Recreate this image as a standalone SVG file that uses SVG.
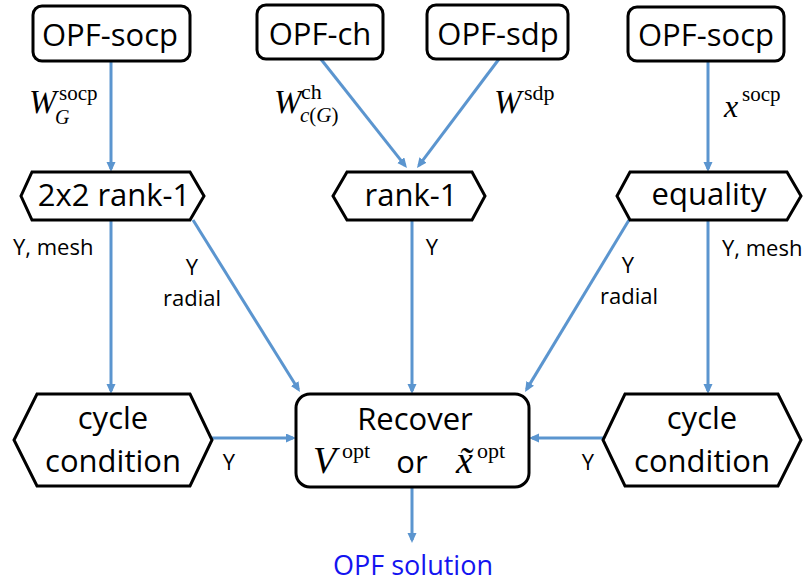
<svg xmlns="http://www.w3.org/2000/svg" width="810" height="583" viewBox="0 0 810 583">
<defs>
<marker id="ah" markerUnits="userSpaceOnUse" markerWidth="10" markerHeight="10" refX="7" refY="4.5" orient="auto">
<path d="M0,0 L10,4.5 L0,9 z" fill="#5B95CF"/>
</marker>
<style>
.box{fill:#fff;stroke:#000;stroke-width:3}
.t{font-family:"Open Sans","Liberation Sans",sans-serif;font-size:31px;fill:#000;text-anchor:middle}
.l{font-family:"Open Sans","Liberation Sans",sans-serif;font-size:22px;fill:#000}
.c{stroke:#5B95CF;stroke-width:3;fill:none;marker-end:url(#ah)}
.m{font-family:"Liberation Serif","Times New Roman",serif;fill:#000}
.mi{font-style:italic}
</style>
</defs>
<rect width="810" height="583" fill="#fff"/>
<g id="connectors">
<path class="c" d="M111,61 L111,169"/>
<path class="c" d="M320,58 L405.1,165.6"/>
<path class="c" d="M499,59 L418.8,165.6"/>
<path class="c" d="M708,61 L708,169"/>
<path class="c" d="M111,220 L111,391"/>
<path class="c" d="M193,220 L298.4,389.5"/>
<path class="c" d="M412,220 L412,391"/>
<path class="c" d="M629,220 L526.6,389.4"/>
<path class="c" d="M708,220 L708,391"/>
<path class="c" d="M212,438 L293,438"/>
<path class="c" d="M603,438 L532,438"/>
<path class="c" d="M412,487 L412,540"/>
</g>
<g id="labels">
<text class="m mi" x="29" y="113" font-size="33">W</text>
<text class="m" x="59" y="100" font-size="21">socp</text>
<text class="m mi" x="55" y="124" font-size="20">G</text>
<text class="m mi" x="274" y="113" font-size="33">W</text>
<text class="m" x="301" y="99" font-size="22">ch</text>
<text class="m" x="300" y="122" font-size="21"><tspan class="mi">c</tspan>(<tspan class="mi">G</tspan>)</text>
<text class="m mi" x="494" y="113" font-size="33">W</text>
<text class="m" x="524" y="100" font-size="22">sdp</text>
<text class="m mi" x="724" y="117" font-size="32">x</text>
<text class="m" x="742" y="101" font-size="21">socp</text>
<text class="l" x="13" y="255">Y, mesh</text>
<text class="l" x="192" y="275" text-anchor="middle">Y</text>
<text class="l" x="192" y="306" text-anchor="middle">radial</text>
<text class="l" x="432" y="255" text-anchor="middle">Y</text>
<text class="l" x="628" y="273" text-anchor="middle">Y</text>
<text class="l" x="629" y="304" text-anchor="middle">radial</text>
<text class="l" x="722" y="256">Y, mesh</text>
<text class="l" x="229" y="470" text-anchor="middle">Y</text>
<text class="l" x="588" y="470" text-anchor="middle">Y</text>
</g>
<g id="n-opf-socp-left">
<rect class="box" x="33" y="6" width="157" height="55" rx="9"/>
<text class="t" x="110" y="46">OPF-socp</text>
</g>
<g id="n-opf-ch">
<rect class="box" x="257" y="5" width="126" height="54" rx="9"/>
<text class="t" x="320" y="45">OPF-ch</text>
</g>
<g id="n-opf-sdp">
<rect class="box" x="427" y="5" width="141" height="54" rx="9"/>
<text class="t" x="498" y="45">OPF-sdp</text>
</g>
<g id="n-opf-socp-right">
<rect class="box" x="628" y="7" width="156" height="54" rx="9"/>
<text class="t" x="706" y="46">OPF-socp</text>
</g>
<g id="n-2x2-rank1">
<polygon class="box" points="32,172 190,172 204,196 190,220 32,220 21,196"/>
<text class="t" x="114" y="206">2x2 rank-1</text>
</g>
<g id="n-rank1">
<polygon class="box" points="347,172 472,172 485,196 472,220 347,220 333,196"/>
<text class="t" x="411" y="206">rank-1</text>
</g>
<g id="n-equality">
<polygon class="box" points="630,172 787,172 801,196 787,220 630,220 617,196"/>
<text class="t" x="709" y="205">equality</text>
</g>
<g id="n-cycle-left">
<polygon class="box" points="37,394 190,394 212,440 190,486 37,486 14,440"/>
<text class="t" x="113" y="429">cycle</text>
<text class="t" x="113" y="472">condition</text>
</g>
<g id="n-cycle-right">
<polygon class="box" points="625,394 778,394 801,440 778,486 625,486 603,440"/>
<text class="t" x="702" y="429">cycle</text>
<text class="t" x="702" y="472">condition</text>
</g>
<g id="n-recover">
<rect class="box" x="296" y="394" width="233" height="93" rx="14"/>
<text class="t" x="415" y="430">Recover</text>
<text class="m mi" x="313" y="473" font-size="38">V</text>
<text class="m" x="342" y="458" font-size="22">opt</text>
<text class="t" x="412" y="473">or</text>
<text class="m mi" x="456" y="473" font-size="38">x&#x303;</text>
<text class="m" x="477" y="458" font-size="22">opt</text>
</g>
<g id="n-solution">
<text x="413" y="575" font-family="'Open Sans','Liberation Sans',sans-serif" font-size="27" fill="#1414F0" text-anchor="middle">OPF solution</text>
</g>
</svg>
